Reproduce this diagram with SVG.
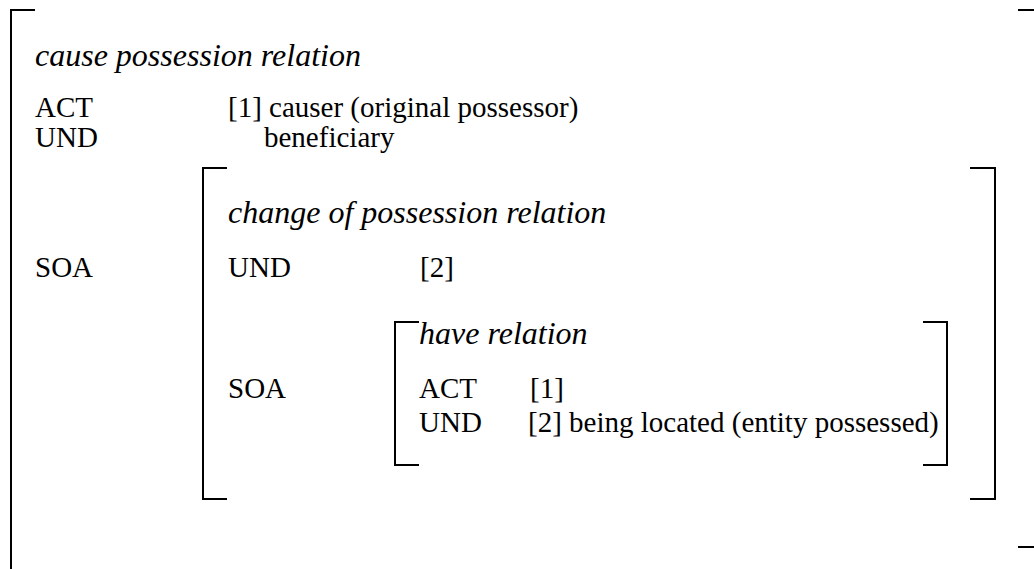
<svg xmlns="http://www.w3.org/2000/svg" width="1034" height="569" viewBox="0 0 1034 569">
<style>
.t{font-family:'Liberation Serif',Tinos,'Times New Roman','DejaVu Serif',serif;font-size:29px;fill:#000}
.i{font-family:'Liberation Serif',Tinos,'Times New Roman','DejaVu Serif',serif;font-size:32px;font-style:italic;fill:#000}
.b{fill:none;stroke:#000;stroke-width:2}
</style>
<rect width="1034" height="569" fill="#fff"/>
<g id="connectors">
<path class="b" d="M35,10 H11 V569"/>
<path class="b" d="M1018,10 H1034"/>
<path class="b" d="M1018,547 H1034"/>
<path class="b" d="M227,168 H203 V499 H227"/>
<path class="b" d="M970,168 H995 V499 H970"/>
<path class="b" d="M419,322 H395 V465 H419"/>
<path class="b" d="M923,322 H947 V465 H923"/>
</g>
<g id="cause-possession">
<text class="i" x="35" y="66">cause possession relation</text>
<text class="t" x="35" y="117">ACT</text>
<text class="t" x="228" y="117">[1] causer (original possessor)</text>
<text class="t" x="35" y="147">UND</text>
<text class="t" x="264" y="147">beneficiary</text>
<text class="t" x="35" y="277">SOA</text>
</g>
<g id="change-of-possession">
<text class="i" x="228" y="223">change of possession relation</text>
<text class="t" x="228" y="277">UND</text>
<text class="t" x="420" y="277">[2]</text>
<text class="t" x="228" y="398">SOA</text>
</g>
<g id="have-relation">
<text class="i" x="419" y="344">have relation</text>
<text class="t" x="419" y="398">ACT</text>
<text class="t" x="530" y="398">[1]</text>
<text class="t" x="419" y="432">UND</text>
<text class="t" x="528" y="432">[2] being located (entity possessed)</text>
</g>
</svg>
